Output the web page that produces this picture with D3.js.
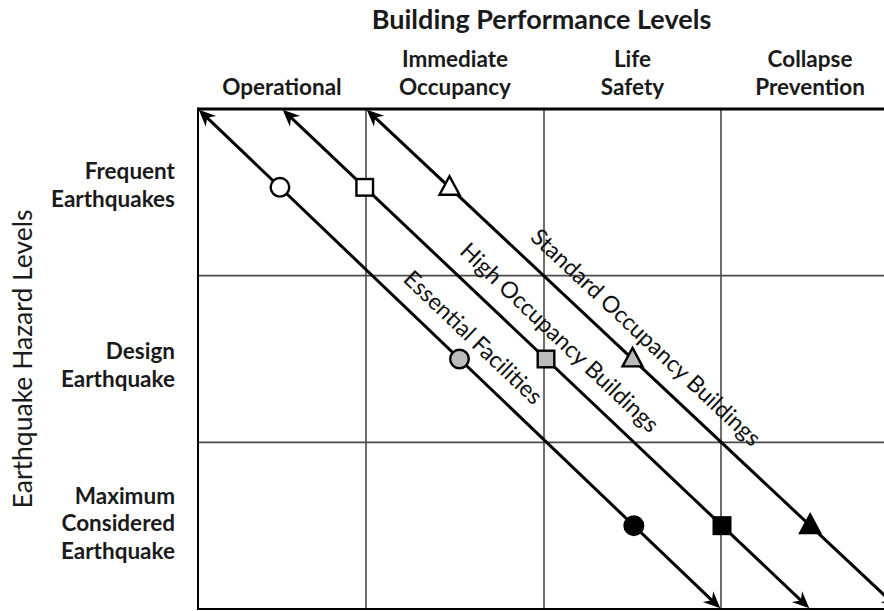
<!DOCTYPE html>
<html><head><meta charset="utf-8">
<script src="https://cdn.jsdelivr.net/npm/d3@7"></script>
<style>body{margin:0;background:#fff}svg{display:block}</style>
</head><body>
<svg id="chart" width="884" height="611"></svg>
<script>
// ---- data ----
const chartTitle = "Building Performance Levels";
const axisTitle = "Earthquake Hazard Levels";
const performanceLevels = [["Operational"], ["Immediate", "Occupancy"], ["Life", "Safety"], ["Collapse", "Prevention"]];
const hazardLevels = [["Frequent", "Earthquakes"], ["Design", "Earthquake"], ["Maximum", "Considered", "Earthquake"]];
const objectiveNames = ["Essential Facilities", "High Occupancy Buildings", "Standard Occupancy Buildings"];
const objectiveStart = [0, 0.5, 1];   // performance level at frequent-hazard edge
const objectiveEnd = [3, 3.5, 4];     // performance level at maximum-hazard edge
const objectiveShapes = ["circle", "square", "triangle"];
const markerHazard = [0.47, 1.5, 2.5]; // hazard position of each marker along a line
const markerFills = ["#ffffff", "#bcbcbc", "#000000"];

// ---- layout ----
const svg = d3.select("#chart");
const font = "Lato, 'Open Sans', sans-serif";
const x = d3.scaleLinear().domain([0, 1, 2, 3, 4]).range([198, 366, 544, 721, 899]);
const y = d3.scaleLinear().domain([0, 3]).range([109, 609]);

// grid
const g = svg.append("g");
g.selectAll("line.v").data(d3.range(1, performanceLevels.length)).join("line")
  .attr("x1", d => x(d)).attr("x2", d => x(d)).attr("y1", y(0)).attr("y2", y(3))
  .attr("stroke", "#4a4a4a").attr("stroke-width", 1.6);
g.selectAll("line.h").data(d3.range(1, hazardLevels.length)).join("line")
  .attr("x1", x(0)).attr("x2", x(4)).attr("y1", d => y(d)).attr("y2", d => y(d))
  .attr("stroke", "#4a4a4a").attr("stroke-width", 1.6);
// frame
g.append("line").attr("x1", x(0)).attr("x2", x(4)).attr("y1", y(0)).attr("y2", y(0)).attr("stroke", "#000").attr("stroke-width", 3);
g.append("line").attr("x1", x(0)).attr("x2", x(0)).attr("y1", y(0) - 1.5).attr("y2", y(3)).attr("stroke", "#000").attr("stroke-width", 2);
g.append("line").attr("x1", x(0) - 1).attr("x2", x(4)).attr("y1", y(3)).attr("y2", y(3)).attr("stroke", "#000").attr("stroke-width", 2);

// titles
svg.append("text").attr("x", (x(0) + x(4)) / 2 - 7).attr("y", 29)
  .attr("text-anchor", "middle").attr("font-family", font).attr("font-weight", 700)
  .attr("font-size", 27).attr("fill", "#1a1a1a").text(chartTitle);
svg.append("text").attr("transform", `translate(32,${(y(0) + y(3)) / 2}) rotate(-90)`)
  .attr("text-anchor", "middle").attr("font-family", font).attr("font-weight", 400)
  .attr("font-size", 26.5).attr("fill", "#1a1a1a").text(axisTitle);

// column headers
performanceLevels.forEach((lines, i) => {
  const t = svg.append("text").attr("text-anchor", "middle").attr("font-family", font)
    .attr("font-weight", 700).attr("font-size", 22.5).attr("fill", "#1a1a1a");
  lines.forEach((s, j) => {
    t.append("tspan").attr("x", (x(i) + x(i + 1)) / 2).attr("y", 94.5 - (lines.length - 1 - j) * 27.5).text(s);
  });
});

// row headers
const rowShift = [-13, 0, -22];
hazardLevels.forEach((lines, i) => {
  const t = svg.append("text").attr("text-anchor", "end").attr("font-family", font)
    .attr("font-weight", 700).attr("font-size", 22.5).attr("fill", "#1a1a1a");
  lines.forEach((s, j) => {
    t.append("tspan").attr("x", 175).attr("y", y(i + 0.5) + rowShift[i] + j * 27.5).text(s);
  });
});

// objective lines
const arrowPath = "M0,0 L-17,-7.5 L-11.5,0 L-17,7.5 Z";
objectiveNames.forEach((name, k) => {
  const p0 = [x(objectiveStart[k]), y(0)];
  const p1 = [x(objectiveEnd[k]), y(3)];
  const dx = p1[0] - p0[0], dy = p1[1] - p0[1];
  const len = Math.hypot(dx, dy), ux = dx / len, uy = dy / len;
  const ang = Math.atan2(dy, dx) * 180 / Math.PI;
  const lg = svg.append("g");
  lg.append("line")
    .attr("x1", p0[0] + ux * 10).attr("y1", p0[1] + uy * 10)
    .attr("x2", p1[0] - ux * 10).attr("y2", p1[1] - uy * 10)
    .attr("stroke", "#000").attr("stroke-width", 3);
  lg.append("path").attr("d", arrowPath).attr("fill", "#000")
    .attr("transform", `translate(${p1[0] - ux},${p1[1] - uy}) rotate(${ang})`);
  lg.append("path").attr("d", arrowPath).attr("fill", "#000")
    .attr("transform", `translate(${p0[0] + ux},${p0[1] + uy}) rotate(${ang + 180})`);
  // label
  lg.append("text")
    .attr("transform", `translate(${(p0[0] + p1[0]) / 2},${(p0[1] + p1[1]) / 2}) rotate(${ang})`)
    .attr("x", -5).attr("y", -17).attr("text-anchor", "middle").attr("font-family", font)
    .attr("font-size", 23).attr("fill", "#111").text(name);
  // markers
  markerHazard.forEach((h, m) => {
    const t = (y(h) - p0[1]) / dy;
    const mx = p0[0] + t * dx, my = y(h);
    const shape = objectiveShapes[k];
    let el;
    if (shape === "circle") {
      el = lg.append("circle").attr("cx", mx).attr("cy", my).attr("r", 9.3);
    } else if (shape === "square") {
      el = lg.append("rect").attr("x", mx - 8.3).attr("y", my - 8.3).attr("width", 16.6).attr("height", 16.6);
    } else {
      const w = 20, hgt = 18.5;
      el = lg.append("path").attr("d",
        `M${mx},${my - hgt * 0.6} L${mx + w / 2},${my + hgt * 0.4} L${mx - w / 2},${my + hgt * 0.4} Z`);
    }
    el.attr("fill", markerFills[m]).attr("stroke", "#000").attr("stroke-width", 2.4);
  });
});
</script>
</body></html>
